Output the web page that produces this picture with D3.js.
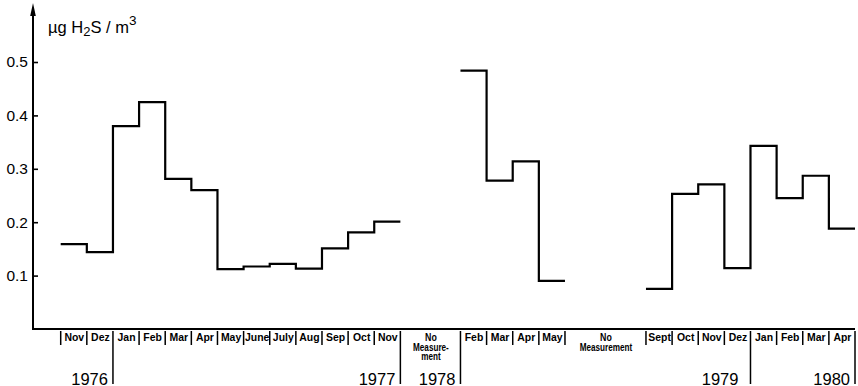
<!DOCTYPE html>
<html>
<head>
<meta charset="utf-8">
<script src="https://cdn.jsdelivr.net/npm/d3@7"></script>
<style>
  html, body { margin: 0; padding: 0; background: #fff; }
  svg { display: block; }
  text { fill: #000; font-family: "Liberation Sans", Arial, sans-serif; }
</style>
</head>
<body>
<svg id="chart" width="858" height="386"></svg>
<script>
// Monthly mean H2S concentration, Nov 1976 – Apr 1980
const cellLabels = [
  "Nov", "Dez", "Jan", "Feb", "Mar", "Apr", "May", "June", "July", "Aug", "Sep", "Oct", "Nov",
  "No\nMeasure-\nment",
  "Feb", "Mar", "Apr", "May",
  "No\nMeasurement",
  "Sept", "Oct", "Nov", "Dez", "Jan", "Feb", "Mar", "Apr"
];
const h2sValues = [
  0.159, 0.144, 0.380, 0.425, 0.281, 0.260, 0.112, 0.117, 0.122, 0.113, 0.151, 0.181, 0.201,
  null,
  0.484, 0.278, 0.314, 0.090,
  null,
  0.075, 0.253, 0.271, 0.114, 0.343, 0.245, 0.287, 0.188
];
const yearLabels = ["1976", "1977", "1978", "1979", "1980"];
const yearLastCell = [1, 12, 13, 22, 26];
const yTicks = [0.1, 0.2, 0.3, 0.4, 0.5];

const svg = d3.select("#chart");

// Layout: gap cells ("No Measurement") are drawn wider than a month cell
const gapWidths = [2.3, 3.1];
let gi = 0, acc = 0;
const cells = cellLabels.map((label, i) => {
  const span = h2sValues[i] === null ? gapWidths[gi++] : 1;
  const c = { label, value: h2sValues[i], u0: acc, u1: acc + span };
  acc += span;
  return c;
});

const axisX = 33, axisY = 329;
const x = d3.scaleLinear().domain([0, acc]).range([60.7, 855]);
const y = d3.scaleLinear().domain([0, 0.5]).range([axisY, 62]);

// Y axis: ticks point into the plot, labels on the left
const yAxis = d3.axisLeft(y)
  .tickValues(yTicks)
  .tickFormat(d3.format(".1f"))
  .tickSize(-5)
  .tickPadding(5);
const gy = svg.append("g").attr("transform", `translate(${axisX},0)`).call(yAxis);
gy.select(".domain").remove();
gy.selectAll(".tick line").attr("stroke", "#000").attr("stroke-width", 1.6);
gy.selectAll(".tick text")
  .attr("font-size", 15.5)
  .attr("font-family", "Liberation Sans, Arial, sans-serif")
  .attr("fill", "#000");

// Vertical axis line with arrow head
svg.append("line")
  .attr("x1", axisX).attr("x2", axisX)
  .attr("y1", axisY + 1).attr("y2", 8)
  .attr("stroke", "#000").attr("stroke-width", 2);
svg.append("path")
  .attr("d", `M${axisX},3 L${axisX - 2.8},16 L${axisX + 2.8},16 Z`)
  .attr("fill", "#000");

// Horizontal axis line
svg.append("line")
  .attr("x1", axisX - 1).attr("x2", x(acc))
  .attr("y1", axisY).attr("y2", axisY)
  .attr("stroke", "#000").attr("stroke-width", 2.2);

// Unit label
const title = svg.append("text")
  .attr("x", 48).attr("y", 33)
  .attr("font-size", 16.5);
title.append("tspan").text("µg H");
title.append("tspan").text("2").attr("dy", 3).attr("font-size", 13);
title.append("tspan").text("S / m").attr("dy", -3);
title.append("tspan").text("3").attr("dy", -8).attr("font-size", 13.5);

// Month cells: separators and labels
const rowTop = axisY + 2, rowBottom = axisY + 16, tallBottom = 384;
const boundaries = cells.map(c => c.u0).concat([acc]);
const tallIdx = yearLastCell.map(k => k + 1);
svg.selectAll("line.sep")
  .data(boundaries)
  .join("line")
  .attr("class", "sep")
  .attr("x1", d => x(d)).attr("x2", d => x(d))
  .attr("y1", rowTop)
  .attr("y2", (d, i) => (tallIdx.includes(i) ? tallBottom : rowBottom))
  .attr("stroke", "#000").attr("stroke-width", 1.5);

const cellText = svg.selectAll("g.cell")
  .data(cells)
  .join("g")
  .attr("class", "cell")
  .attr("transform", d => `translate(${(x(d.u0) + x(d.u1)) / 2 + 0.5},0)`);
cellText.each(function (d) {
  const lines = d.label.split("\n");
  const gap = lines.length > 1;
  const g = d3.select(this).append("g")
    .attr("transform", gap ? "scale(0.8,1)" : "scale(0.95,1)");
  lines.forEach((t, k) => {
    g.append("text")
      .attr("x", 0)
      .attr("y", 341.5 + k * 9.5)
      .attr("text-anchor", "middle")
      .attr("font-size", gap && k > 0 ? 10.2 : 11)
      .attr("font-weight", "bold")
      .text(t);
  });
});

// Year labels, right-aligned against their divider
svg.selectAll("text.year")
  .data(yearLabels)
  .join("text")
  .attr("class", "year")
  .attr("x", (d, i) => x(cells[yearLastCell[i]].u1) - (i === 3 ? 12 : 5))
  .attr("y", 384.5)
  .attr("text-anchor", "end")
  .attr("font-size", 16.5)
  .text(d => d);

// Step line, one path per run of measured months
const runs = [];
let current = [];
cells.forEach(c => {
  if (c.value === null) {
    if (current.length) runs.push(current);
    current = [];
  } else {
    current.push(c);
  }
});
if (current.length) runs.push(current);

const step = d3.line()
  .x(p => x(p[0]))
  .y(p => y(p[1]))
  .curve(d3.curveStepAfter);

svg.selectAll("path.run")
  .data(runs.map(r => r.map(c => [c.u0, c.value]).concat([[r[r.length - 1].u1, r[r.length - 1].value]])))
  .join("path")
  .attr("class", "run")
  .attr("d", step)
  .attr("fill", "none")
  .attr("stroke", "#000")
  .attr("stroke-width", 2.2)
  .attr("stroke-linejoin", "miter");
</script>
</body>
</html>
